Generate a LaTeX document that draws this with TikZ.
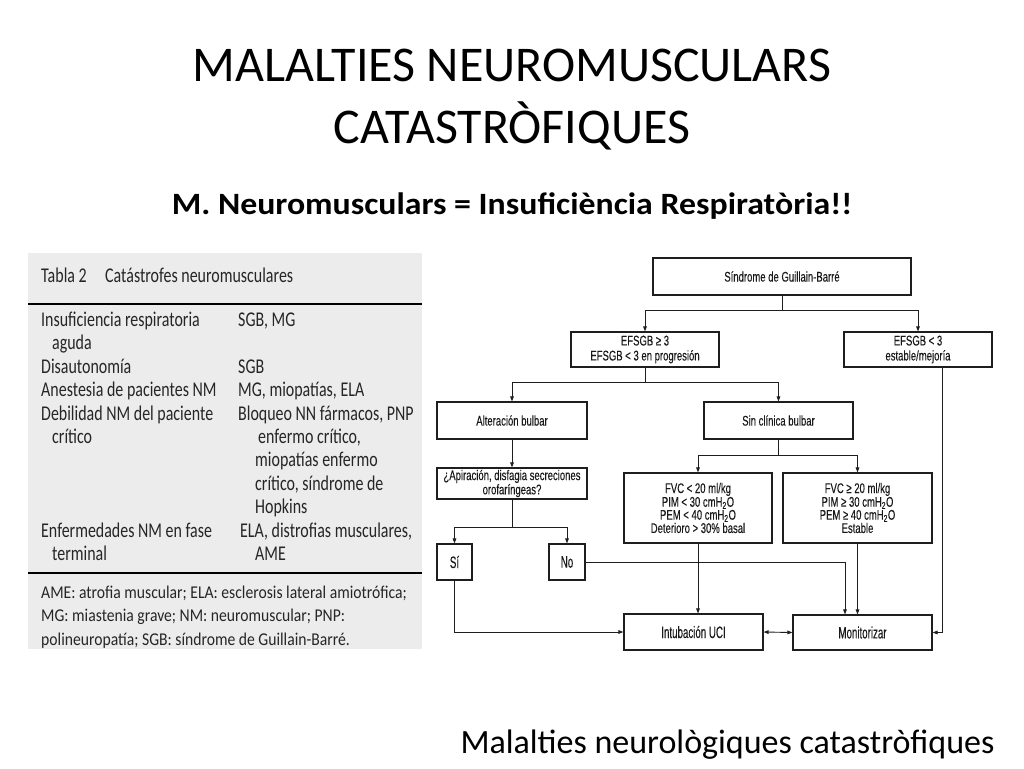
\documentclass[tikz,border=0pt]{standalone}
\usepackage{fontspec}
\setmainfont{Carlito}
\newfontfamily\subfont[FakeStretch=1.09]{Carlito}
\newfontfamily\tabfont[FakeStretch=0.76]{Carlito}
\newfontfamily\notefont[FakeStretch=0.87]{Carlito}
\newfontfamily\flowfont[FakeStretch=0.68,FakeBold=0.1]{Liberation Sans}
\newfontfamily\flowbig[FakeStretch=0.59,FakeBold=0.1]{Liberation Sans}
\usetikzlibrary{arrows.meta,calc}
\definecolor{tablegray}{RGB}{236,236,236}
\definecolor{lineink}{RGB}{30,30,30}
\tikzset{
  tabtext/.style={anchor=base west,inner sep=0pt,font=\tabfont\fontsize{21}{21}\selectfont,text=black!85},
  foottext/.style={anchor=base west,inner sep=0pt,font=\notefont\fontsize{18}{18}\selectfont,text=black!85},
  flowbox/.style={draw=lineink,line width=1.1pt,fill=white,align=center,inner sep=1pt,
    font=\flowfont\fontsize{14}{14}\selectfont,text=black!90},
  flowtight/.style={flowbox,font=\flowfont\fontsize{14}{11.3}\selectfont},
  flowlarge/.style={flowbox,font=\flowbig\fontsize{16.5}{16}\selectfont},
  ln/.style={draw=lineink,line width=0.9pt},
  arr/.style={ln,-{Triangle[length=5pt,width=3.6pt]}},
  dblarr/.style={ln,{Triangle[length=5pt,width=3.6pt]}-{Triangle[length=5pt,width=3.6pt]}}
}
\begin{document}
\begin{tikzpicture}[x=1pt,y=-1pt]
\useasboundingbox[fill=white] (0,0) rectangle (1024,768);

% titles
\node[font=\fontsize{50}{62}\selectfont,align=center] (title) at (512,100) {MALALTIES NEUROMUSCULARS\\CATASTRÒFIQUES};
\node[font=\subfont\bfseries\fontsize{31}{33}\selectfont] (sub) at (512,206) {M. Neuromusculars = Insuficiència Respiratòria!!};
\node[font=\fontsize{34}{36}\selectfont,anchor=east] (foot) at (998,745) {Malalties neurològiques catastròfiques};

% table
\fill[tablegray] (28,253) rectangle (422,649);
\draw[black,line width=1.8pt] (28,304) -- (422,304);
\draw[black,line width=1.8pt] (28,573) -- (422,573);
\node[tabtext] (th1) at (41,282) {Tabla 2};
\node[tabtext] (th2) at (105,282) {Catástrofes neuromusculares};
\node[tabtext] (a1) at (41,326) {Insuficiencia respiratoria};
\node[tabtext] (b1) at (238,326) {SGB, MG};
\node[tabtext] (a2) at (52,349.5) {aguda};
\node[tabtext] (a3) at (41,373) {Disautonomía};
\node[tabtext] (b3) at (238,373) {SGB};
\node[tabtext] (a4) at (41,396.5) {Anestesia de pacientes NM};
\node[tabtext] (b4) at (238,396.5) {MG, miopatías, ELA};
\node[tabtext] (a5) at (41,420) {Debilidad NM del paciente};
\node[tabtext] (b5) at (238,420) {Bloqueo NN fármacos, PNP};
\node[tabtext] (a6) at (52,443) {crítico};
\node[tabtext] (b6) at (258,443) {enfermo crítico,};
\node[tabtext] (b7) at (255,466.5) {miopatías enfermo};
\node[tabtext] (b8) at (255,490) {crítico, síndrome de};
\node[tabtext] (b9) at (255,513) {Hopkins};
\node[tabtext] (a10) at (41,537) {Enfermedades NM en fase};
\node[tabtext] (b10) at (240,537) {ELA, distrofias musculares,};
\node[tabtext] (a11) at (52,560) {terminal};
\node[tabtext] (b11) at (255,560) {AME};
\node[foottext] (f1) at (41,598) {AME: atrofia muscular; ELA: esclerosis lateral amiotrófica;};
\node[foottext] (f2) at (41,621.5) {MG: miastenia grave; NM: neuromuscular; PNP:};
\node[foottext] (f3) at (41,645) {polineuropatía; SGB: síndrome de Guillain-Barré.};

% flowchart
\node[flowbox,minimum width=258pt,minimum height=37pt] (sgb) at (782,276.5) {Síndrome de Guillain-Barré};
\node[flowbox,font=\flowfont\fontsize{14}{15}\selectfont,minimum width=148pt,minimum height=35pt] (ef3) at (645,349.5) {EFSGB ≥ 3\\EFSGB < 3 en progresión};
\node[flowbox,font=\flowfont\fontsize{14}{15}\selectfont,minimum width=148pt,minimum height=35pt] (efl) at (918,349.5) {EFSGB < 3\\estable/mejoría};
\node[flowbox,minimum width=150pt,minimum height=37pt] (alt) at (512,420.5) {Alteración bulbar};
\node[flowbox,minimum width=149pt,minimum height=37pt] (sin) at (778.5,420.5) {Sin clínica bulbar};
\node[flowbox,font=\flowfont\fontsize{14}{13}\selectfont,minimum width=150pt,minimum height=31pt] (api) at (512,483.5) {¿Apiración, disfagia secreciones\\orofaríngeas?};
\node[flowtight,minimum width=148pt,minimum height=70pt] (fvcl) at (698,508) {FVC < 20 ml/kg\\PIM < 30 cmH\textsubscript{2}O\\PEM < 40 cmH\textsubscript{2}O\\Deterioro > 30\% basal};
\node[flowtight,minimum width=149pt,minimum height=70pt] (fvcg) at (857.5,508) {FVC ≥ 20 ml/kg\\PIM ≥ 30 cmH\textsubscript{2}O\\PEM ≥ 40 cmH\textsubscript{2}O\\Estable};
\node[flowlarge,minimum width=35pt,minimum height=36pt] (si) at (454.5,562) {Sí};
\node[flowlarge,minimum width=36pt,minimum height=36pt] (no) at (567,562) {No};
\node[flowlarge,minimum width=139pt,minimum height=36pt] (intub) at (693.5,632) {Intubación UCI};
\node[flowlarge,minimum width=139pt,minimum height=35pt] (mon) at (862.5,632.5) {Monitorizar};

\coordinate (j1) at (782,310);
\draw[ln] (sgb.south) -- (j1);
\draw[arr] (j1) -| (ef3.north);
\draw[arr] (j1) -| (efl.north);
\coordinate (j2) at (645,382);
\draw[ln] (ef3.south) -- (j2);
\draw[arr] (j2) -| (alt.north);
\draw[arr] (j2) -| (sin.north);
\draw[arr] (alt.south) -- (api.north);
\coordinate (j3) at (512,527);
\draw[ln] (api.south) -- (j3);
\draw[arr] (j3) -| (si.north);
\draw[arr] (j3) -| (no.north);
\coordinate (j4) at (778.5,455);
\draw[ln] (sin.south) -- (j4);
\draw[arr] (j4) -| (fvcl.north);
\draw[arr] (j4) -| (fvcg.north);
\draw[arr] (fvcl.south) -- (fvcl.south |- intub.north);
\draw[arr] (fvcg.south) -- (fvcg.south |- mon.north);
\draw[arr] (no.east) -| ([xshift=-17.5pt]mon.north);
\draw[arr] (si.south) |- (intub.west);
\draw[arr] ([xshift=24pt]efl.south) |- (mon.east);
\draw[dblarr] (intub.east) -- (mon.west);
\end{tikzpicture}
\end{document}
